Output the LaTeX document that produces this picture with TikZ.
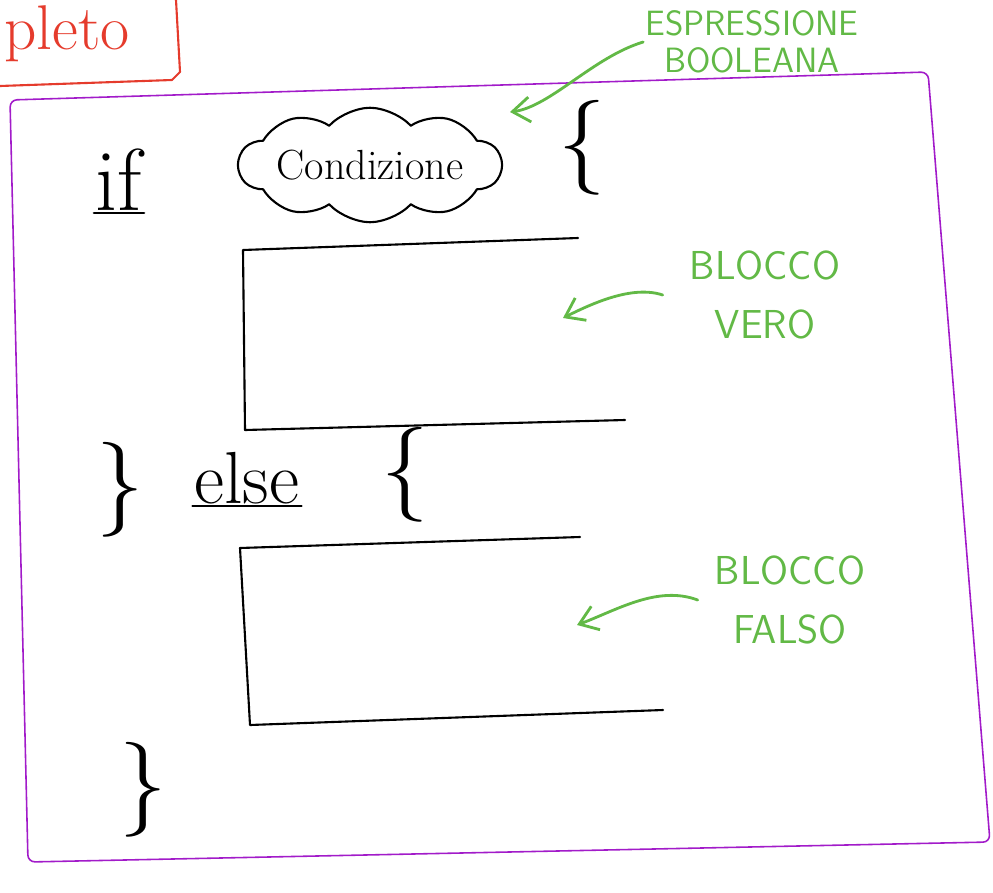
\documentclass[tikz,border=0pt]{standalone}
\usepackage{fontspec}
\usepackage{tikz}
\usetikzlibrary{arrows.meta,positioning,shapes.symbols,calc}
\definecolor{redink}{HTML}{E53B2C}
\definecolor{purpleink}{HTML}{A21BC9}
\definecolor{greenink}{HTML}{62B946}

\begin{document}
\begin{tikzpicture}[x=0.02cm,y=-0.02cm,
  ink/.style={line width=1.2pt,line cap=round,line join=round},
  glabel/.style={text=greenink,font=\sffamily\fontsize{23}{34}\selectfont,align=center,inner sep=1pt},
  garrow/.style={greenink,line width=1.6pt,line cap=round,-{Straight Barb[length=3.5mm,width=5mm]}},
  brc/.style={font=\fontsize{54}{54}\selectfont,inner sep=0pt}]
  \useasboundingbox (0,0) rectangle (993,892);

  % red title box, cut by the page edge
  \node[text=redink,font=\fontsize{36}{36}\selectfont,anchor=base west,inner sep=0pt] (title) at (4,50) {pleto};
  \draw[redink,ink] (176,0) -- (180,72) -- (172,80) -- (0,86);

  % purple frame
  \draw[purpleink,line width=0.9pt,rounded corners=4pt]
    (10,100) -- (928,72) -- (990,842) -- (28,862) -- cycle;

  % if ( condizione ) {
  \node[font=\fontsize{50}{50}\selectfont,inner sep=1pt] (kif) at (119,180) {if};
  \draw[ink] (kif.south west) -- (kif.south east);
  \node[cloud,draw,ink,cloud puffs=10,cloud puff arc=95,aspect=3.2,inner sep=0pt,
    minimum width=4.9cm,minimum height=1.6cm,
    font=\fontsize{24}{24}\selectfont] (cond) at (370,165) {Condizione};
  \node[brc] (ob1) at (582,148) {\{};

  % true block
  \coordinate (v1) at (578,238);
  \coordinate (v2) at (243,250);
  \coordinate (v3) at (245,430);
  \coordinate (v4) at (625,420);
  \draw[ink] (v1) -- (v2) -- (v3) -- (v4);

  % } else {
  \node[brc] (cb1) at (120,490) {\}};
  \node[font=\fontsize{42}{42}\selectfont,inner sep=1pt] (kelse) at (247,478) {else};
  \draw[ink] (kelse.south west) -- (kelse.south east);
  \node[brc] (ob2) at (405,475) {\{};

  % false block
  \coordinate (f1) at (580,537);
  \coordinate (f2) at (240,548);
  \coordinate (f3) at (250,725);
  \coordinate (f4) at (663,710);
  \draw[ink] (f1) -- (f2) -- (f3) -- (f4);

  \node[brc] (cb2) at (143,790) {\}};

  % green notes
  \node[glabel,font=\sffamily\fontsize{20}{21}\selectfont] (espr) at (752,42) {ESPRESSIONE\\BOOLEANA};
  \coordinate (etip) at (510,112);
  \draw[garrow] (espr.west) .. controls +(-50,15) and +(40,-5) .. (etip);

  \node[glabel] (vero) at (765,295) {BLOCCO\\VERO};
  \coordinate (vtip) at (563,318);
  \draw[garrow] ([xshift=-0.5cm]vero.west) .. controls +(-30,-10) and +(30,-15) .. (vtip);

  \node[glabel] (falso) at (790,600) {BLOCCO\\FALSO};
  \coordinate (ftip) at (577,625);
  \draw[garrow] ([xshift=-0.3cm]falso.west) .. controls +(-40,-15) and +(40,-15) .. (ftip);
\end{tikzpicture}
\end{document}
